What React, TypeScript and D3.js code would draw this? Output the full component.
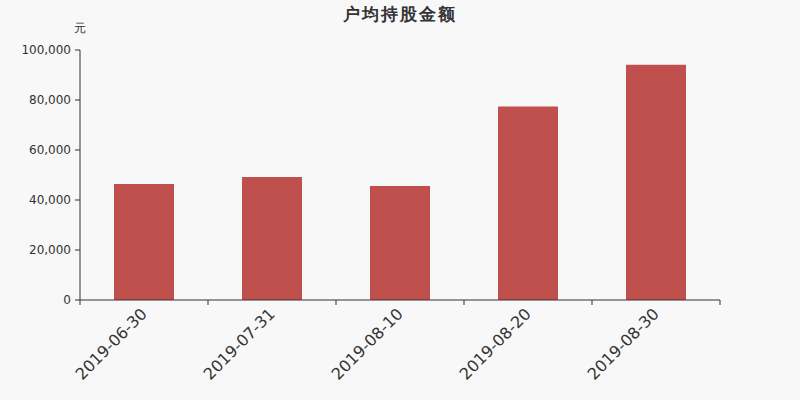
import React from "react";
import { scaleBand, scaleLinear, format } from "d3";

const categories = ["2019-06-30", "2019-07-31", "2019-08-10", "2019-08-20", "2019-08-30"];
const values = [46400, 49200, 45600, 77400, 94100];
const yTicks = [0, 20000, 40000, 60000, 80000, 100000];

const W = 800;
const H = 400;
const LEFT = 80;
const RIGHT = 720;
const TOP = 50;
const BOTTOM = 300;

export default function App() {
  const x = scaleBand<string>().domain(categories).range([LEFT, RIGHT]).paddingInner(0).paddingOuter(0);
  const y = scaleLinear().domain([0, 100000]).range([BOTTOM, TOP]);
  const barW = 60;
  const fmt = format(",");
  const boundaries = categories.map((c) => x(c)!).concat([RIGHT]);

  return (
    <svg width={W} height={H} style={{ position: "absolute", left: 0, top: 0, background: "#f8f8f8" }} fontFamily="DejaVu Sans, sans-serif">
      <rect width={W} height={H} fill="#f8f8f8" />
      <text x={400} y={20} textAnchor="middle" fontSize={17} fontWeight="bold" fill="#333" letterSpacing={2}>
        户均持股金额
      </text>
      <text x={80} y={32} textAnchor="middle" fontSize={12} fill="#333">元</text>

      {categories.map((c, i) => (
        <rect
          key={c}
          x={x(c)! + (x.bandwidth() - barW) / 2}
          y={y(values[i])}
          width={barW}
          height={BOTTOM - y(values[i])}
          fill="#c0504d"
        />
      ))}

      {/* y axis */}
      <line x1={LEFT} x2={LEFT} y1={TOP} y2={BOTTOM} stroke="#333" />
      {yTicks.map((v) => (
        <g key={v} transform={`translate(${LEFT}, ${y(v)})`}>
          <line x1={-5} x2={0} stroke="#333" />
          <text x={-9} dy="0.35em" textAnchor="end" fontSize={12} fill="#333">
            {fmt(v)}
          </text>
        </g>
      ))}

      {/* x axis */}
      <line x1={LEFT} x2={RIGHT} y1={BOTTOM} y2={BOTTOM} stroke="#333" />
      {boundaries.map((b, i) => (
        <line key={i} x1={b} x2={b} y1={BOTTOM} y2={BOTTOM + 5} stroke="#333" />
      ))}
      {categories.map((c) => {
        const cx = x(c)! + x.bandwidth() / 2;
        return (
          <text
            key={c}
            transform={`translate(${cx}, ${BOTTOM + 11}) rotate(-45)`}
            textAnchor="end"
            dy="0.35em"
            fontSize={16}
            fill="#333"
          >
            {c}
          </text>
        );
      })}
    </svg>
  );
}
